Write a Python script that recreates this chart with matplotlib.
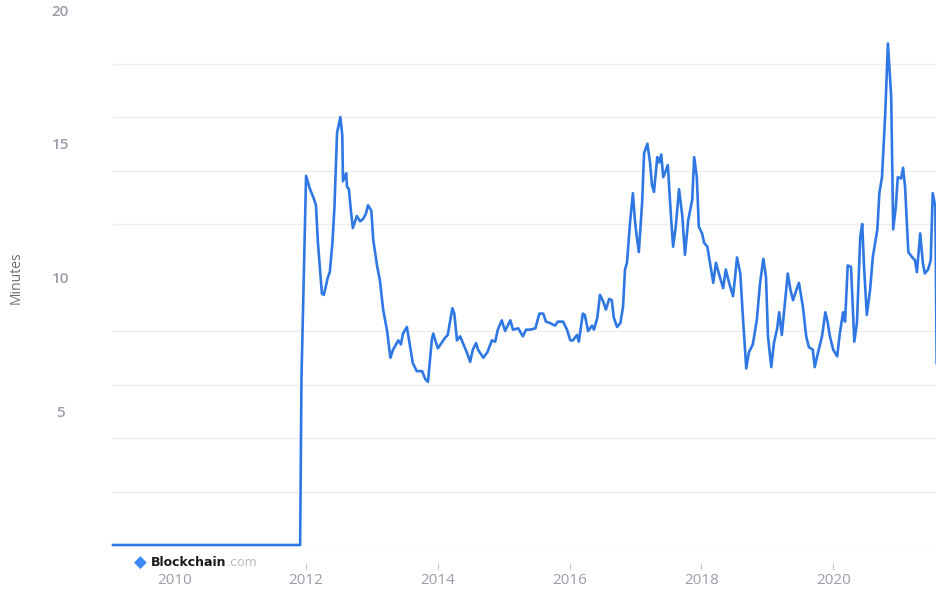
import matplotlib
matplotlib.use("Agg")
import matplotlib.pyplot as plt
from matplotlib.ticker import FixedLocator

plt.rcParams['font.family'] = ['Open Sans', 'DejaVu Sans']

# Decimal years and median confirmation time (minutes)
years = [2009.07, 2011.91, 2011.93, 2012.00, 2012.06, 2012.11, 2012.15, 2012.18, 2012.24, 2012.27,
         2012.33, 2012.36, 2012.40, 2012.43, 2012.47, 2012.52, 2012.55, 2012.56, 2012.61, 2012.62,
         2012.65, 2012.68, 2012.71, 2012.77, 2012.82, 2012.87, 2012.91, 2012.94, 2012.99, 2013.02,
         2013.08, 2013.12, 2013.17, 2013.23, 2013.28, 2013.32, 2013.40, 2013.44, 2013.47, 2013.53,
         2013.58, 2013.62, 2013.68, 2013.76, 2013.81, 2013.85, 2013.91, 2013.93, 2014.00, 2014.11,
         2014.15, 2014.22, 2014.25, 2014.29, 2014.34, 2014.38, 2014.44, 2014.49, 2014.53, 2014.58,
         2014.61, 2014.69, 2014.75, 2014.82, 2014.87, 2014.91, 2014.97, 2015.02, 2015.10, 2015.14,
         2015.22, 2015.29, 2015.34, 2015.40, 2015.48, 2015.54, 2015.60, 2015.64, 2015.70, 2015.78,
         2015.82, 2015.90, 2015.96, 2016.01, 2016.05, 2016.11, 2016.14, 2016.20, 2016.23, 2016.28,
         2016.34, 2016.37, 2016.42, 2016.46, 2016.51, 2016.55, 2016.60, 2016.64, 2016.67, 2016.72,
         2016.77, 2016.81, 2016.84, 2016.87, 2016.92, 2016.96, 2016.99, 2017.02, 2017.05, 2017.10,
         2017.13, 2017.18, 2017.22, 2017.25, 2017.28, 2017.33, 2017.36, 2017.39, 2017.42, 2017.46,
         2017.49, 2017.54, 2017.57, 2017.61, 2017.66, 2017.71, 2017.75, 2017.80, 2017.86, 2017.89,
         2017.93, 2017.96, 2018.01, 2018.04, 2018.09, 2018.13, 2018.18, 2018.22, 2018.27, 2018.33,
         2018.37, 2018.42, 2018.48, 2018.51, 2018.54, 2018.59, 2018.63, 2018.68, 2018.72, 2018.78,
         2018.84, 2018.89, 2018.94, 2018.98, 2019.01, 2019.06, 2019.10, 2019.15, 2019.18, 2019.22,
         2019.27, 2019.31, 2019.35, 2019.39, 2019.45, 2019.48, 2019.54, 2019.59, 2019.63, 2019.69,
         2019.72, 2019.77, 2019.83, 2019.88, 2019.91, 2019.95, 2020.00, 2020.06, 2020.10, 2020.15,
         2020.18, 2020.22, 2020.27, 2020.32, 2020.36, 2020.41, 2020.44, 2020.47, 2020.51, 2020.56,
         2020.60, 2020.67, 2020.70, 2020.74, 2020.79, 2020.83, 2020.88, 2020.91, 2020.95, 2020.98,
         2021.03, 2021.06, 2021.09, 2021.14, 2021.20, 2021.24, 2021.27, 2021.32, 2021.36, 2021.39,
         2021.44, 2021.48, 2021.51, 2021.55, 2021.57]

minutes = [0.0, 0.0, 6.2, 13.8, 13.3, 13.0, 12.7, 11.3, 9.4, 9.35,
           10.0, 10.2, 11.3, 12.6, 15.4, 16.0, 15.3, 13.6, 13.9, 13.4,
           13.3, 12.5, 11.85, 12.3, 12.1, 12.2, 12.4, 12.7, 12.5, 11.4,
           10.4, 9.9, 8.8, 8.0, 7.0, 7.3, 7.65, 7.5, 7.9, 8.15,
           7.4, 6.8, 6.5, 6.5, 6.2, 6.1, 7.7, 7.9, 7.35, 7.75,
           7.85, 8.85, 8.65, 7.65, 7.8, 7.55, 7.2, 6.85, 7.3, 7.55,
           7.3, 7.0, 7.2, 7.65, 7.6, 8.05, 8.4, 8.0, 8.4, 8.05,
           8.1, 7.8, 8.05, 8.05, 8.1, 8.65, 8.65, 8.35, 8.3, 8.2,
           8.35, 8.35, 8.05, 7.65, 7.65, 7.85, 7.6, 8.65, 8.6, 8.0,
           8.2, 8.05, 8.5, 9.35, 9.1, 8.8, 9.2, 9.15, 8.5, 8.15,
           8.3, 8.9, 10.3, 10.55, 12.15, 13.15, 12.15, 11.5, 10.95, 12.8,
           14.65, 15.0, 14.3, 13.45, 13.2, 14.5, 14.3, 14.6, 13.75, 14.0,
           14.2, 12.2, 11.15, 11.9, 13.3, 12.3, 10.85, 12.15, 12.9, 14.5,
           13.75, 11.9, 11.65, 11.3, 11.15, 10.55, 9.8, 10.55, 10.1, 9.6,
           10.3, 9.8, 9.3, 10.0, 10.75, 10.15, 8.5, 6.6, 7.2, 7.5,
           8.4, 9.8, 10.7, 10.0, 7.8, 6.65, 7.55, 8.1, 8.7, 7.85,
           9.15, 10.15, 9.55, 9.15, 9.6, 9.8, 8.9, 7.8, 7.4, 7.3,
           6.65, 7.2, 7.8, 8.7, 8.4, 7.8, 7.3, 7.05, 7.9, 8.7,
           8.35, 10.45, 10.4, 7.6, 8.3, 11.5, 12.0, 10.3, 8.6, 9.55,
           10.75, 11.8, 13.15, 13.75, 16.15, 18.75, 16.75, 11.8, 12.65, 13.75,
           13.7, 14.1, 13.4, 10.95, 10.75, 10.65, 10.2, 11.65, 10.55, 10.15,
           10.3, 10.65, 13.15, 12.65, 6.8]

x_ticks = [2010, 2012, 2014, 2016, 2018, 2020]
y_ticks = [5, 10, 15, 20]
y_grid = [0, 2, 4, 6, 8, 10, 12, 14, 16, 18, 20]

W, H = 937, 595
fig = plt.figure(figsize=(W / 100, H / 100), dpi=100)
ax = fig.add_axes([113 / W, 50 / H, 824 / W, 535 / H])

label_color = '#9b9caa'
line_color = '#2f78e4'

ax.plot(years, minutes, color=line_color, linewidth=1.9, clip_on=False,
        solid_joinstyle='round', zorder=3)

ax.set_xlim(2009.07, 2021.575)
ax.set_ylim(0, 20)

ax.yaxis.set_major_locator(FixedLocator(y_ticks))
ax.yaxis.set_minor_locator(FixedLocator(y_grid))
ax.grid(False)
ax.grid(True, which='minor', axis='y', color='#ededed', linewidth=1.0)
ax.tick_params(axis='y', which='both', length=0, labelsize=11, labelcolor=label_color, pad=38)
for lab in ax.get_yticklabels():
    lab.set_horizontalalignment('center')
    lab.set_fontweight('semibold')

ax.xaxis.set_major_locator(FixedLocator(x_ticks))
ax.set_xticklabels([str(y) for y in x_ticks], fontweight='semibold')
ax.spines['bottom'].set_position(('outward', 13))
for s in ax.spines.values():
    s.set_visible(False)
ax.tick_params(axis='x', which='major', length=5, width=0.8, color='#c8c8d0',
               labelsize=11, labelcolor=label_color, pad=2, direction='out')
ax.xaxis.get_major_ticks()[0].tick1line.set_visible(False)

ax.set_ylabel('Minutes', color='#6e6e78', fontsize=10)
ax.yaxis.set_label_coords(-(113 - 24) / 824, 0.5)

# Blockchain.com watermark
ly = (H - 563) / H
fig.text(140 / W, ly, '\u25C6', color='#3d8af7', fontsize=12, ha='center', va='center',
         family='DejaVu Sans')
t = fig.text(151 / W, ly, 'Blockchain', color='#1a1a1a', fontsize=9, fontweight='bold',
             ha='left', va='center', family='DejaVu Sans')
ax.annotate('.com', xy=(1, 0.5), xycoords=t, va='center', ha='left',
            color='#b9bcc6', fontsize=9, family='DejaVu Sans', annotation_clip=False)

fig.savefig('out.png', dpi=100, facecolor='white')
